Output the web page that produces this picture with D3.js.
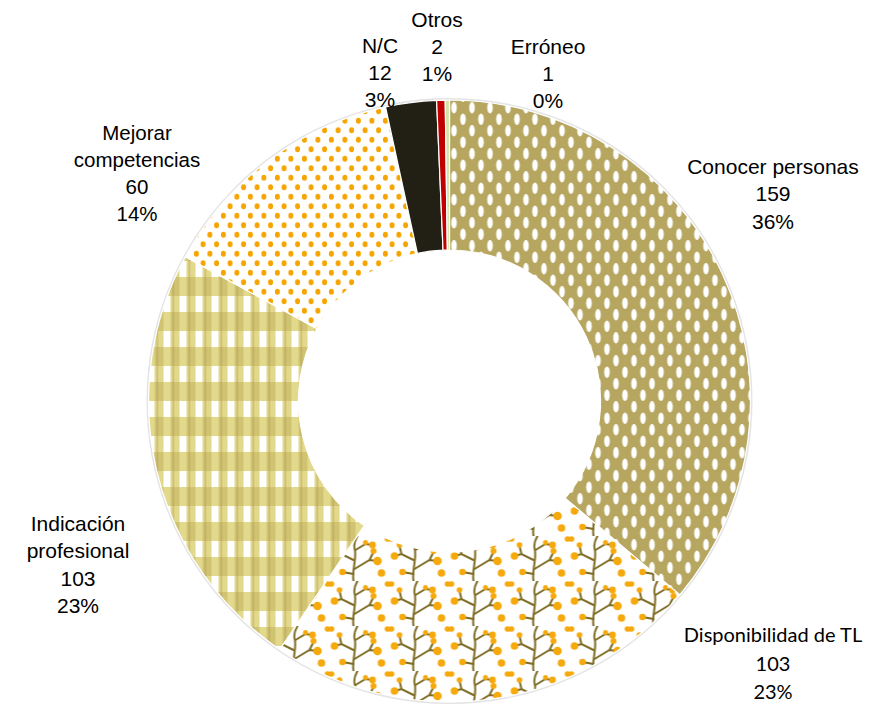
<!DOCTYPE html>
<html><head><meta charset="utf-8">
<script src="https://cdn.jsdelivr.net/npm/d3@7"></script>
<style>html,body{margin:0;padding:0;background:#fff;}svg{display:block;}</style>
</head><body>
<div id="chart"></div>
<script>
// ---- data ----
const categories = ["Conocer personas","Disponibilidad de TL","Indicación profesional","Mejorar competencias","N/C","Otros","Erróneo"];
const values = [159,103,103,60,12,2,1];
const percentLabels = ["36%","23%","23%","14%","3%","1%","0%"];
const labelLines = [["Conocer personas"],["Disponibilidad de TL"],["Indicación","profesional"],["Mejorar","competencias"],["N/C"],["Otros"],["Erróneo"]];

// ---- layout / style ----
const W = 892, H = 711;
const cx = 449.5, cy = 401, R = 301, r0 = 151;
const fills = ["url(#pConocer)","url(#pDispon)","url(#pIndic)","url(#pMejorar)","#221f14","#c00000","#d3e3a5"];
const labelPos = [[773,166],[773,635],[78,523],[137,133],[380,45],[437,19],[548,46]];
const labelFont = ["Liberation Sans, Arial, sans-serif","Lato, Carlito, sans-serif","Liberation Sans, Arial, sans-serif","Liberation Sans, Arial, sans-serif","Liberation Sans, Arial, sans-serif","Liberation Sans, Arial, sans-serif","Liberation Sans, Arial, sans-serif"];
const labelSize = [21,20,21,20.5,21,21,21];
const lineH = [27.8,28.5,27.6,27,27,27,27];

const svg = d3.select("#chart").append("svg").attr("width",W).attr("height",H);
const defs = svg.append("defs");

// Conocer personas: khaki with white ellipses
let p = defs.append("pattern").attr("id","pConocer").attr("patternUnits","userSpaceOnUse").attr("width",18).attr("height",23);
p.append("rect").attr("width",18).attr("height",23).attr("fill","#b6a660");
[[4.5,5.75],[13.5,17.25],[13.5,-5.75]].forEach(([x,y])=>p.append("ellipse").attr("cx",x).attr("cy",y).attr("rx",2.8).attr("ry",5.8).attr("fill","#fff"));

// Mejorar competencias: white with orange dots
p = defs.append("pattern").attr("id","pMejorar").attr("patternUnits","userSpaceOnUse").attr("width",13.5).attr("height",19);
p.append("rect").attr("width",13.5).attr("height",19).attr("fill","#fff");
[[3.4,4.75],[10.1,14.25]].forEach(([x,y])=>p.append("ellipse").attr("cx",x).attr("cy",y).attr("rx",2.5).attr("ry",3).attr("fill","#f6a500"));

// Indicación profesional: gingham
p = defs.append("pattern").attr("id","pIndic").attr("patternUnits","userSpaceOnUse").attr("width",16).attr("height",35);
p.append("rect").attr("width",16).attr("height",35).attr("fill","#d0c372");
p.append("rect").attr("x",0).attr("y",0).attr("width",16).attr("height",16).attr("fill","#e3d98c");
p.append("rect").attr("x",2).attr("y",0).attr("width",7).attr("height",35).attr("fill","#e3d98c");
p.append("rect").attr("x",2).attr("y",0).attr("width",7).attr("height",16).attr("fill","#ffffff");
p.append("rect").attr("x",11).attr("y",0).attr("width",1.6).attr("height",35).attr("fill","#a89a4c").attr("opacity",0.45);

// Disponibilidad de TL: berry branches
p = defs.append("pattern").attr("id","pDispon").attr("patternUnits","userSpaceOnUse").attr("width",60).attr("height",45);
p.append("rect").attr("width",60).attr("height",45).attr("fill","#fff");
const br = "#7d6b22";
const g = p.append("g").attr("stroke",br).attr("stroke-width",2).attr("fill","none").attr("stroke-linecap","round");
g.append("path").attr("d","M24,45 C22,34 28,22 25,12 C24,6 27,2 28,0");
g.append("path").attr("d","M25,33 L40,24 L48,25 M40,24 L44,16");
g.append("path").attr("d","M24,24 L12,18 L5,20 M12,18 L10,10");
g.append("path").attr("d","M26,14 L36,8 L43,9");
g.append("path").attr("d","M24,38 L13,36");
const berries = [[48,25,4.3],[44,15,3],[5,20,3.8],[10,9,2.8],[43,9,3.4],[36,6.5,2.5],[13,36,3.3],[52,37,3.8],[2,3,2.8],[58,3,2.8]];
berries.forEach(([x,y,rr])=>p.append("circle").attr("cx",x).attr("cy",y).attr("r",rr).attr("fill","#f5a90c"));

// ---- pie ----
const pie = d3.pie().sort(null).value(d=>d.v).startAngle(0).endAngle(2*Math.PI);
const arcs = pie(values.map((v,i)=>({v,i})));
const arc = d3.arc().innerRadius(r0).outerRadius(R);
const gc = svg.append("g").attr("transform",`translate(${cx},${cy})`);
gc.append("circle").attr("r",R+1).attr("fill","none").attr("stroke","#e4e4e4").attr("stroke-width",2);
gc.selectAll("path.slice").data(arcs).enter().append("path").attr("class","slice")
  .attr("d",arc).attr("fill",d=>fills[d.data.i]).attr("stroke","#fff").attr("stroke-width",1.2);

// ---- labels ----
const lg = svg.append("g");
categories.forEach((c,i)=>{
  const lines = labelLines[i].concat([String(values[i]), percentLabels[i]]);
  const [x,y] = labelPos[i];
  const t = lg.append("text").attr("text-anchor","middle").attr("font-family",labelFont[i]).attr("font-size",labelSize[i]).attr("fill","#000");
  lines.forEach((ln,k)=>{
    t.append("tspan").attr("x",x).attr("y",y + k*lineH[i] + labelSize[i]*0.36).text(ln);
  });
});
</script>
</body></html>
